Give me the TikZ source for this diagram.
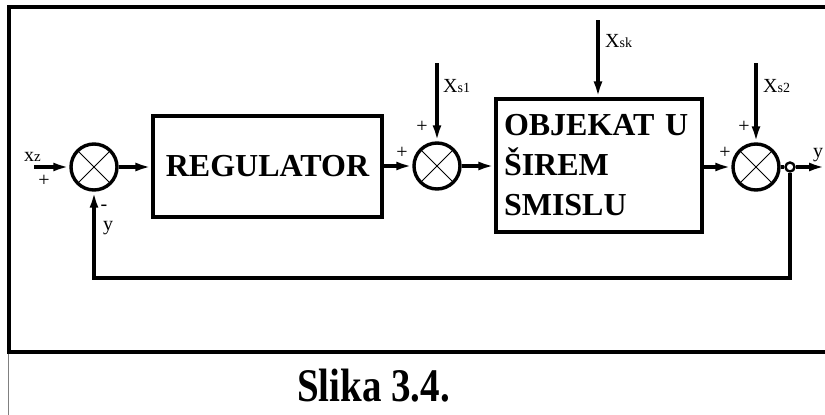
\documentclass[tikz,border=0pt]{standalone}
\usepackage{fontspec}
\usepackage{graphicx}
\setmainfont{Liberation Serif}
\usetikzlibrary{arrows.meta}
\begin{document}
\begin{tikzpicture}[x=1pt,y=-1pt,
  sumnode/.style={circle,draw,line width=3.4pt,minimum size=46pt,inner sep=0pt,
    path picture={\draw[line width=1pt]
      (path picture bounding box.north west)--(path picture bounding box.south east)
      (path picture bounding box.north east)--(path picture bounding box.south west);}},
  blockbox/.style={draw,line width=3.2pt,inner sep=0pt,font=\fontsize{32}{40}\selectfont\bfseries},
  sig/.style={line width=3.2pt,-{Latex[length=16pt,width=9pt]}},
  lbl/.style={inner sep=0pt,font=\fontsize{20}{22}\selectfont},
  sub/.style={font=\fontsize{14}{16}\selectfont}
]
\useasboundingbox (0,0) rectangle (825,415);
% frame
\draw[line width=3.2pt] (825,7) -- (9,7) -- (9,352) -- (825,352);
\draw[line width=1.2pt,gray] (8.5,353.6) -- (8.5,415);

% junctions and blocks
\node[sumnode] (s1) at (94,167) {};
\node[blockbox,minimum width=229pt,minimum height=101pt] (reg) at (267.5,166.5) {REGULATOR};
\node[sumnode] (s2) at (437,166) {};
\node[blockbox,minimum width=206pt,minimum height=133pt,align=left,text width=190pt,inner xsep=8pt] (obj) at (599,165.5)
  {OBJEKAT U\\ŠIREM\\SMISLU};
\node[sumnode] (s3) at (756,167) {};
\node[circle,draw,line width=2.4pt,minimum size=9pt,inner sep=0pt] (out) at (790,167) {};

% external points
\coordinate (xzin) at (34,167);
\coordinate (xs1in) at (437,63);
\coordinate (xskin) at (598,20);
\coordinate (xs2in) at (756,63);
\coordinate (yout) at (825,167);

% connectors
\draw[sig] (xzin) -- (s1.west);
\draw[sig] (s1.east) -- (s1.east -| reg.west);
\draw[sig] (reg.east |- s2) -- (s2.west);
\draw[sig] (s2.east) -- (s2.east -| obj.west);
\draw[sig] (obj.east |- s3) -- (s3.west);
\draw[line width=3.2pt] (s3.east) -- (out.west);
\draw[sig] (out.east) -- (yout);
\draw[sig] (out.south) -- (out.south |- 0,278) -| (s1.south);
\draw[sig] (xs1in) -- (s2.north);
\draw[sig] (xskin) -- (xskin |- obj.north);
\draw[sig] (xs2in) -- (s3.north);

% labels
\node[lbl,anchor=base west] (lxz) at (24,161) {x{\fontsize{15}{16}\selectfont z}};
\node[lbl] (lp1) at (44,181) {+};
\node[lbl] (lm1) at (104,208) {-};
\node[lbl,anchor=base] (ly1) at (108,230) {y};
\node[lbl] (lp2a) at (402,153) {+};
\node[lbl] (lp2b) at (422,127) {+};
\node[lbl,anchor=base west] (lxs1) at (443,92) {X{\fontsize{14}{16}\selectfont s1}};
\node[lbl,anchor=base west] (lxsk) at (605,47) {X{\fontsize{14}{16}\selectfont sk}};
\node[lbl] (lp3a) at (725,153) {+};
\node[lbl] (lp3b) at (744,127) {+};
\node[lbl,anchor=base west] (lxs2) at (763,92) {X{\fontsize{14}{16}\selectfont s2}};
\node[lbl,anchor=base west] (lyo) at (813,157) {y};

% caption
\node[inner sep=0pt,anchor=base] (cap) at (373.5,401.5)
  {\scalebox{1}[1.2]{\fontsize{39}{44}\selectfont\bfseries Slika 3.4.}};
\end{tikzpicture}
\end{document}
